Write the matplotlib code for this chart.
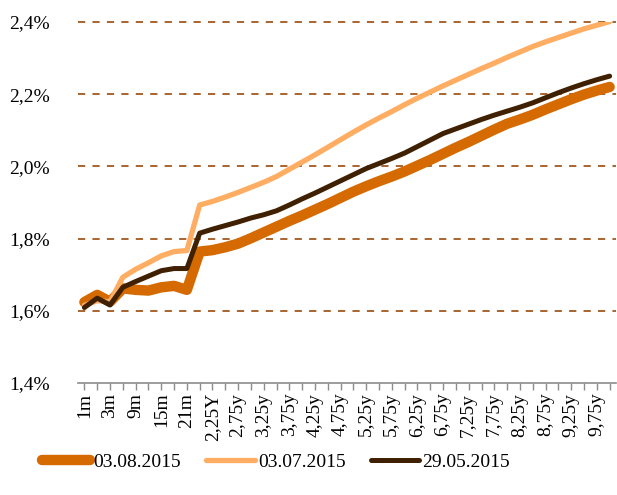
import numpy as np
import matplotlib
matplotlib.use('Agg')
import matplotlib.pyplot as plt
from matplotlib.ticker import FuncFormatter

plt.rcParams['font.family'] = ['Liberation Serif', 'DejaVu Serif']

# maturities on the curve
tenors = ['1m', '2m', '3m', '6m', '9m', '12m', '15m', '18m', '21m', '2Y',
          '2,25Y', '2,5Y', '2,75y', '3y', '3,25y', '3,5y', '3,75y', '4y',
          '4,25y', '4,5y', '4,75y', '5y', '5,25y', '5,5y', '5,75y', '6y',
          '6,25y', '6,5y', '6,75y', '7y', '7,25y', '7,5y', '7,75y', '8y',
          '8,25y', '8,5y', '8,75y', '9y', '9,25y', '9,5y', '9,75y', '10y']

# yields, %
curve_0308 = [1.624, 1.644, 1.625, 1.662, 1.658, 1.656, 1.665, 1.669, 1.658, 1.764,
              1.768, 1.776, 1.786, 1.801, 1.817, 1.833, 1.849, 1.864, 1.880, 1.896,
              1.913, 1.930, 1.945, 1.959, 1.972, 1.986, 2.002, 2.018, 2.035, 2.052,
              2.068, 2.085, 2.102, 2.118, 2.130, 2.143, 2.158, 2.172, 2.186, 2.199,
              2.210, 2.220]
curve_0307 = [1.615, 1.628, 1.625, 1.693, 1.715, 1.733, 1.752, 1.764, 1.767, 1.893,
              1.903, 1.915, 1.928, 1.942, 1.956, 1.972, 1.992, 2.012, 2.032, 2.053,
              2.074, 2.095, 2.115, 2.134, 2.152, 2.171, 2.189, 2.206, 2.223, 2.239,
              2.255, 2.271, 2.286, 2.302, 2.317, 2.332, 2.345, 2.357, 2.369, 2.381,
              2.391, 2.401]
curve_2905 = [1.609, 1.635, 1.616, 1.665, 1.681, 1.696, 1.711, 1.717, 1.717, 1.815,
              1.826, 1.836, 1.846, 1.857, 1.866, 1.877, 1.893, 1.910, 1.926, 1.943,
              1.960, 1.977, 1.994, 2.008, 2.022, 2.037, 2.055, 2.073, 2.091, 2.104,
              2.117, 2.130, 2.142, 2.153, 2.164, 2.176, 2.190, 2.204, 2.217, 2.229,
              2.240, 2.250]

fig = plt.figure(figsize=(6.17, 4.95), dpi=100)
ax = fig.add_axes([0.1264, 0.2263, 0.872, 0.7293])

x = np.arange(len(tenors))
ax.plot(x, curve_0308, color='#D46A00', lw=7.5, solid_capstyle='round',
        solid_joinstyle='round', label='03.08.2015', zorder=3)
ax.plot(x, curve_0307, color='#FFAD62', lw=3.8, solid_capstyle='round',
        solid_joinstyle='round', label='03.07.2015', zorder=4)
ax.plot(x, curve_2905, color='#3F2000', lw=3.6, solid_capstyle='round',
        solid_joinstyle='round', label='29.05.2015', zorder=5)

ax.set_xlim(-0.5, len(tenors) - 0.5)
ax.set_ylim(1.4, 2.4)
ax.set_yticks([1.4, 1.6, 1.8, 2.0, 2.2, 2.4])
ax.yaxis.set_major_formatter(FuncFormatter(lambda v, p: f'{v:.1f}%'.replace('.', ',')))

for yv in [1.6, 1.8, 2.0, 2.2, 2.4]:
    ax.axhline(yv, color='#A3581C', lw=1.3, ls=(0, (4, 4)), zorder=1, clip_on=False)

ax.set_xticks(x)
ax.set_xticklabels([t if i % 2 == 0 else '' for i, t in enumerate(tenors)],
                   rotation=90, fontsize=14)
ax.tick_params(axis='x', length=5, width=1, color='#8C8C8C', pad=2)
ax.tick_params(axis='y', length=0, pad=20, labelsize=14)

for s in ['top', 'right', 'left']:
    ax.spines[s].set_visible(False)
ax.spines['bottom'].set_color('#8C8C8C')
ax.spines['bottom'].set_linewidth(1.2)

fig.legend(loc='center', bbox_to_anchor=(0.447, 0.067), ncol=3, frameon=False,
           fontsize=14, handlelength=2.5, handletextpad=0.15, columnspacing=1.3)

fig.savefig('out.png', dpi=100)
